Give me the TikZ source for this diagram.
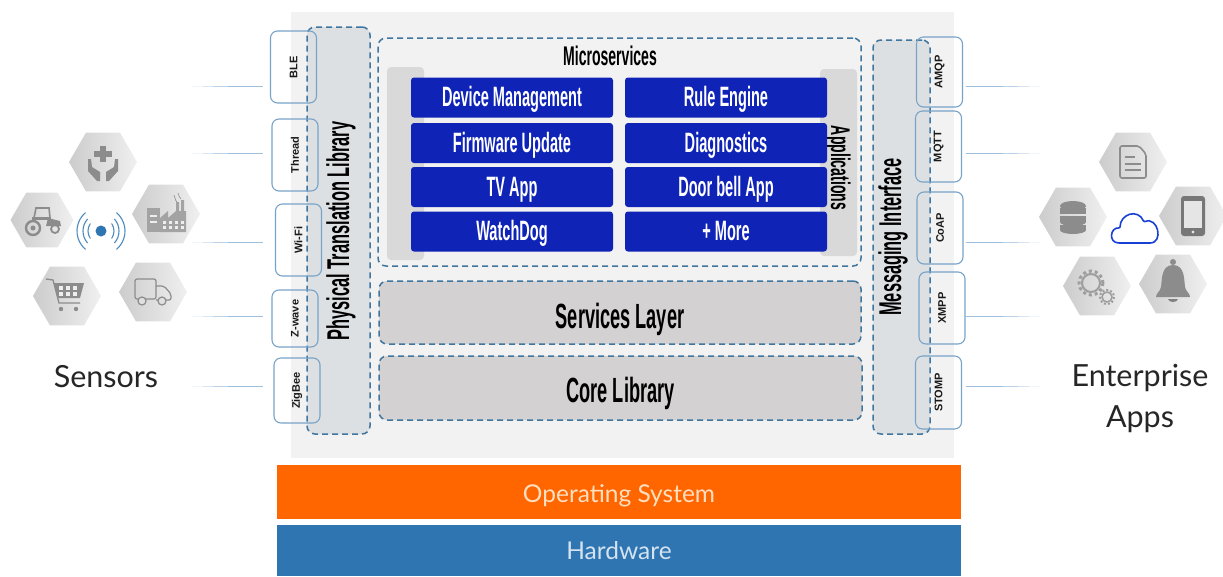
\documentclass[tikz,border=0pt]{standalone}
\usepackage{fontspec}
\usetikzlibrary{shapes.geometric,calc}
\newfontfamily\condfont[FakeStretch=0.52]{Liberation Sans}
\newfontfamily\latofont{Lato}
\setmainfont{Liberation Sans}
\definecolor{panelgray}{HTML}{F2F2F2}
\definecolor{sidegray}{HTML}{DDE0E3}
\definecolor{layergray}{HTML}{D3D1D1}
\definecolor{appgray}{HTML}{D9D9D9}
\definecolor{dashblue}{HTML}{3F769F}
\definecolor{tabblue}{HTML}{78A3C8}
\definecolor{linkblue}{HTML}{9DBEDC}
\definecolor{svcblue}{HTML}{0F23B7}
\definecolor{osorange}{HTML}{FF6600}
\definecolor{hwblue}{HTML}{2E75B2}
\definecolor{icongray}{HTML}{8C8C8C}
\newcommand{\fadelink}[2]{
	\draw[link] (#1) -- ($(#1)!.5!(#2)$);
	\draw[link,opacity=.7] ($(#1)!.5!(#2)$) -- ($(#1)!.7!(#2)$);
	\draw[link,opacity=.4] ($(#1)!.7!(#2)$) -- ($(#1)!.85!(#2)$);
	\draw[link,opacity=.15] ($(#1)!.85!(#2)$) -- (#2);
}
\begin{document}
\begin{tikzpicture}[x=1pt,y=-1pt]
	% Define the styles for the nodes
	\tikzstyle{protocol}=[draw=tabblue, line width=1.1pt, rounded corners=7pt, inner sep=0pt, minimum width=46pt, font=\bfseries\fontsize{11}{11}\selectfont, text=black!90]
	\tikzstyle{dashbox}=[draw=dashblue, line width=1.5pt, dash pattern=on 6pt off 4pt, rounded corners=8pt, inner sep=0pt]
	\tikzstyle{service}=[fill=svcblue, rounded corners=3pt, inner sep=0pt, minimum width=202pt, minimum height=40pt, text height=20pt, text depth=2pt, text=white, font=\condfont\bfseries\fontsize{28}{28}\selectfont]
	\tikzstyle{banner}=[inner sep=0pt, minimum width=684pt, font=\latofont\fontsize{24.5}{24.5}\selectfont]
	\tikzstyle{hexa}=[regular polygon, regular polygon sides=6, minimum size=68pt, inner sep=0pt, left color=black!20, right color=black!6]
	\tikzstyle{title}=[inner sep=0pt, text=black!85, font=\latofont\fontsize{30.5}{30.5}\selectfont]
	\tikzstyle{link}=[linkblue, line width=1pt]
	\tikzstyle{heavy}=[inner sep=0pt, text=black, font=\condfont\bfseries\fontsize{31.5}{31.5}\selectfont]
	\tikzstyle{small heavy}=[inner sep=0pt, text=black, font=\condfont\bfseries\fontsize{27}{27}\selectfont]
	\tikzstyle{layer}=[dashbox, fill=layergray, text depth=2pt, font=\condfont\bfseries\fontsize{35}{35}\selectfont]

	\useasboundingbox (0,0) rectangle (1223,576);

	% Panel and bottom banners
	\fill[panelgray] (291,12) rectangle (954,458);
	\node (os) at (619,492) [banner, fill=osorange, minimum height=54pt, text height=20pt, text depth=0pt, text=orange!25!white] {Operating System};
	\node (hw) at (619,550.5) [banner, fill=hwblue, minimum height=51pt, text=hwblue!20!white] {Hardware};

	% Dashed layers
	\node (phy) at (338.5,230.5) [dashbox, fill=sidegray, minimum width=63pt, minimum height=407pt] {};
	\node (phylabel) at (341,231) [heavy] {\rotatebox{90}{Physical Translation Library}};
	\node (msg) at (901.5,237) [dashbox, fill=sidegray, minimum width=57pt, minimum height=394pt] {};
	\node (msglabel) at (893,237) [heavy] {\rotatebox{90}{Messaging Interface}};
	\node (micro) at (619.5,152) [dashbox, minimum width=483pt, minimum height=228pt] {};
	\node (svc) at (620,312.5) [layer, text height=34pt, minimum width=482pt, minimum height=63pt] {Services Layer};
	\node (core) at (620.5,388) [layer, text height=31pt, minimum width=483pt, minimum height=64pt] {Core Library};

	% Applications bars and service boxes
	\node (appl) at (405.5,163.5) [fill=appgray, rounded corners=4pt, minimum width=37pt, minimum height=193pt] {};
	\node (appr) at (838.5,162.5) [fill=appgray, rounded corners=4pt, minimum width=37pt, minimum height=187pt] {};
	\node (microlabel) at (610,56) [small heavy] {Microservices};
	\node (applabel) at (838,168) [small heavy] {\rotatebox{-90}{Applications}};
	\node (devmgmt) at (512,97.5) [service] {Device Management}; \node (rule) at (726,97.5) [service] {Rule Engine};
	\node (firmware) at (512,143) [service] {Firmware Update}; \node (diag) at (726,143) [service] {Diagnostics};
	\node (tvapp) at (512,187) [service] {TV App}; \node (doorbell) at (726,187) [service] {Door bell App};
	\node (watchdog) at (512,231.5) [service] {WatchDog}; \node (more) at (726,231.5) [service] {+ More};

	% Protocol tabs on the left
	\node (ble) at (293.5,67) [protocol, minimum height=72pt] {\rotatebox{90}{BLE}};
	\node (thread) at (295,155) [protocol, minimum height=72pt] {\rotatebox{90}{Thread}};
	\node (wifi) at (298.5,240) [protocol, minimum height=72pt] {\rotatebox{90}{Wi-Fi}};
	\node (zwave) at (295,318.5) [protocol, minimum height=57pt] {\rotatebox{90}{Z-wave}};
	\node (zigbee) at (297,390.5) [protocol, minimum height=65pt] {\rotatebox{90}{ZigBee}};

	% Protocol tabs on the right
	\node (amqp) at (939.5,72) [protocol, minimum height=70pt] {\rotatebox{90}{AMQP}};
	\node (mqtt) at (938.5,146.5) [protocol, minimum height=71pt] {\rotatebox{90}{MQTT}};
	\node (coap) at (940,228) [protocol, minimum height=72pt] {\rotatebox{90}{CoAP}};
	\node (xmpp) at (942,308) [protocol, minimum height=72pt] {\rotatebox{90}{XMPP}};
	\node (stomp) at (938.5,392.5) [protocol, minimum height=73pt] {\rotatebox{90}{STOMP}};

	% Fading links
	\coordinate (bleA) at (263,86); \coordinate (bleB) at (192,86);
	\coordinate (threadA) at (263,153); \coordinate (threadB) at (192,153);
	\coordinate (wifiA) at (263,242); \coordinate (wifiB) at (192,242);
	\coordinate (zwaveA) at (263,316); \coordinate (zwaveB) at (192,316);
	\coordinate (zigbeeA) at (263,386); \coordinate (zigbeeB) at (192,386);
	\coordinate (amqpA) at (966,86); \coordinate (amqpB) at (1040,86);
	\coordinate (mqttA) at (966,153); \coordinate (mqttB) at (1040,153);
	\coordinate (coapA) at (966,242); \coordinate (coapB) at (1040,242);
	\coordinate (xmppA) at (966,316); \coordinate (xmppB) at (1040,316);
	\coordinate (stompA) at (966,386); \coordinate (stompB) at (1040,386);
	\fadelink{bleA}{bleB} \fadelink{threadA}{threadB} \fadelink{wifiA}{wifiB}
	\fadelink{zwaveA}{zwaveB} \fadelink{zigbeeA}{zigbeeB}
	\fadelink{amqpA}{amqpB} \fadelink{mqttA}{mqttB} \fadelink{coapA}{coapB}
	\fadelink{xmppA}{xmppB} \fadelink{stompA}{stompB}

	% Hexagons
	\node (health) at (103,162) [hexa] {}; \node (tractor) at (42,220) [hexa, minimum size=63pt] {};
	\node (factory) at (166,214) [hexa] {}; \node (cart) at (67,296) [hexa] {};
	\node (truck) at (153,292) [hexa] {};
	\node (doc) at (1133,162) [hexa] {}; \node (db) at (1073,217) [hexa] {};
	\node (phone) at (1193,216) [hexa] {}; \node (gears) at (1097,286) [hexa] {};
	\node (bell) at (1173,284) [hexa] {};

	% Sensor icons
	\begin{scope}[shift={(health)}]
		\fill[icongray] (-3,-16) rectangle (3,0); \fill[icongray] (-9,-11) rectangle (9,-5);
		\fill[icongray] (-15,-3) -- (-12,-3) -- (-11,5) -- (-3,10) -- (-3,19) -- (-6,19) -- (-15,9) -- cycle;
		\fill[icongray] (15,-3) -- (12,-3) -- (11,5) -- (3,10) -- (3,19) -- (6,19) -- (15,9) -- cycle;
	\end{scope}
	\begin{scope}[shift={(tractor)}]
		\draw[icongray, line width=1.6pt] (-8,-2) -- (-6,-12) -- (7,-12) -- (8,-2);
		\fill[icongray] (-10,-3) rectangle (9,0); \fill[icongray] (6,-2) -- (18,1) -- (19,6) -- (4,6) -- cycle;
		\draw[icongray, line width=2.4pt] (-9,8) circle (7); \fill[icongray] (-9,8) circle (2.5);
		\draw[icongray, line width=1.8pt] (13,9) circle (4);
	\end{scope}
	\begin{scope}[shift={(factory)}]
		\fill[icongray!80] (-19,-6) rectangle (-6,18); \fill[icongray!80] (-6,4) -- (2,-3) -- (2,4) -- (10,-3) -- (10,-12) -- (13,-12) -- (13,-3) -- (15,-3) -- (15,-14) -- (18,-14) -- (18,-3) -- (20,-3) -- (20,18) -- (-6,18) -- cycle;
		\foreach \xp in {-3,3,9,15} { \foreach \yp in {7,12} { \fill[white!85!icongray] (\xp,\yp) rectangle ++(3,3); } }
		\fill[white!85!icongray] (-16,1) rectangle (-9,3); \fill[white!85!icongray] (-16,7) rectangle (-9,9);
		\draw[icongray, line width=.6pt] (8,-19) .. controls (10,-16) and (8,-15) .. (11,-12);
		\draw[icongray, line width=.6pt] (12,-21) .. controls (14,-18) and (12,-17) .. (15,-15);
	\end{scope}
	\begin{scope}[shift={(cart)}]
		\draw[icongray, line width=1.3pt] (-21,-17) -- (-14,-16) -- (-8,7) -- (13,7);
		\fill[icongray] (-13,-13) -- (17,-13) -- (13,2) -- (-9,2) -- cycle;
		\foreach \xp in {-8,-1,6} { \fill[white!85!icongray] (\xp,-10) rectangle ++(4,4); \fill[white!85!icongray] (\xp,-4) rectangle ++(4,3.5); }
		\fill[icongray] (-6,13) circle (2.2); \fill[icongray] (9,13) circle (2.2);
	\end{scope}
	\begin{scope}[shift={(truck)}]
		\draw[icongray, line width=1.2pt, rounded corners=2pt] (-18,-13) rectangle (3,7);
		\draw[icongray, line width=1.2pt, rounded corners=2pt] (3,-6) -- (11,-6) -- (18,2) -- (18,8) -- (3,8);
		\draw[icongray, line width=1.2pt, fill=black!12] (-11,9) circle (4); \draw[icongray, line width=1.2pt, fill=black!12] (9,9) circle (4);
	\end{scope}

	% Wireless mark
	\node (signal) at (101,231) [circle, fill=hwblue, minimum size=11pt, inner sep=0pt] {};
	\draw[hwblue!85, line width=1.1pt] ([shift={(145:13)}]signal.center) arc[start angle=145, end angle=215, radius=13];
	\draw[hwblue!85, line width=1.1pt] ([shift={(35:13)}]signal.center) arc[start angle=35, end angle=-35, radius=13];
	\draw[hwblue!85, line width=1.1pt] ([shift={(138:18)}]signal.center) arc[start angle=138, end angle=222, radius=18];
	\draw[hwblue!85, line width=1.1pt] ([shift={(42:18)}]signal.center) arc[start angle=42, end angle=-42, radius=18];
	\draw[hwblue!85, line width=1.1pt] ([shift={(130:24)}]signal.center) arc[start angle=130, end angle=230, radius=24];
	\draw[hwblue!85, line width=1.1pt] ([shift={(50:24)}]signal.center) arc[start angle=50, end angle=-50, radius=24];

	% Enterprise icons
	\begin{scope}[shift={(doc)}]
		\draw[icongray, line width=1.6pt, rounded corners=2pt] (-13,-16) -- (6,-16) -- (13,-8) -- (13,16) -- (-13,16) -- cycle;
		\draw[icongray, line width=1.4pt] (-8,-5) -- (2,-5); \draw[icongray, line width=1.4pt] (-8,2) -- (8,2); \draw[icongray, line width=1.4pt] (-8,8) -- (8,8);
	\end{scope}
	\begin{scope}[shift={(db)}]
		\fill[icongray] (-13,-9) rectangle (13,-3); \fill[icongray] (0,-11) ellipse (13 and 5);
		\fill[icongray] (-13,-1) rectangle (13,5); \fill[icongray] (0,5) ellipse (13 and 4);
		\fill[icongray] (-13,8) rectangle (13,13); \fill[icongray] (0,13) ellipse (13 and 4);
	\end{scope}
	\begin{scope}[shift={(phone)}]
		\fill[icongray!85!black, rounded corners=3pt] (-12,-20) rectangle (12,20);
		\fill[black!10] (-9,-15) rectangle (9,12); \fill[black!10] (0,16) circle (1.6);
	\end{scope}
	\begin{scope}[shift={(gears)}]
		\draw[black!38, line width=2pt] (-6,-3) circle (9);
		\draw[black!38, line width=3pt, dash pattern=on 3pt off 3pt] (-6,-3) circle (12);
		\draw[black!38, line width=1.5pt] (10,11) circle (5);
		\draw[black!38, line width=2pt, dash pattern=on 2pt off 2pt] (10,11) circle (7);
	\end{scope}
	\begin{scope}[shift={(bell)}]
		\fill[icongray] (0,-22) circle (3);
		\fill[icongray] (0,-19) .. controls (-12,-19) and (-11,-4) .. (-12,3) .. controls (-13,8) and (-17,9) .. (-17,13) -- (17,13) .. controls (17,9) and (13,8) .. (12,3) .. controls (11,-4) and (12,-19) .. (0,-19) -- cycle;
		\fill[black!50] (-5,15) -- (5,15) .. controls (4,19) and (-4,19) .. (-5,15) -- cycle;
	\end{scope}

	% Cloud
	\draw[blue!45!hwblue, line width=1.6pt, rounded corners=1pt] (1120,243) .. controls (1108,243) and (1110,227) .. (1120,228) .. controls (1120,214) and (1138,208) .. (1144,222) .. controls (1158,216) and (1164,243) .. (1149,243) -- cycle;

	% Side titles
	\node (sensors) at (106,377) [title] {Sensors};
	\node (enterprise) at (1140,378) [title] {Enterprise};
	\node (apps) at (1140,419) [title] {Apps};
\end{tikzpicture}
\end{document}
